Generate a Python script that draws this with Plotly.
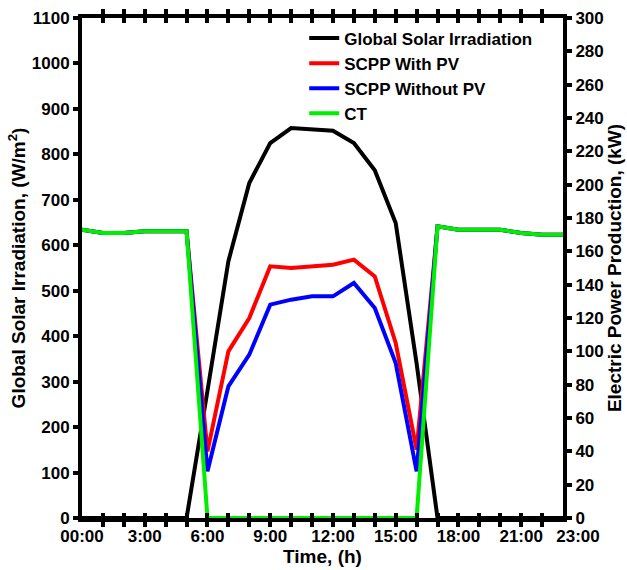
import plotly.graph_objects as go

hours = list(range(24))
irradiation = [0, 0, 0, 0, 0, 0, 280, 565, 737, 825, 858, 856, 852, 825, 765, 649, 340, 0, 0, 0, 0, 0, 0, 0]
scpp_with_pv = [173, 171, 171, 172, 172, 172, 40, 100, 120, 151, 150, 151, 152, 155, 145, 105, 41, 175, 173, 173, 173, 171, 170, 170]
scpp_without_pv = [173, 171, 171, 172, 172, 172, 28, 79, 98, 128, 131, 133, 133, 141, 126, 93, 28, 175, 173, 173, 173, 171, 170, 170]
ct = [173, 171, 171, 172, 172, 172, 0, 0, 0, 0, 0, 0, 0, 0, 0, 0, 0, 175, 173, 173, 173, 171, 170, 170]

tick_labels = {0: "00:00", 3: "3:00", 6: "6:00", 9: "9:00", 12: "12:00",
               15: "15:00", 18: "18:00", 21: "21:00"}
last_tick_value = 23
last_tick_label = "23:00"
x_tickvals = hours
x_ticktext = [tick_labels.get(h, "") for h in hours]

FONT = "Liberation Sans, Arial, sans-serif"
tickf = dict(family=FONT, size=17, color="black", weight="bold")
titlef = dict(family=FONT, size=19, color="black", weight="bold")
legf = dict(family=FONT, size=17, color="black", weight="bold")

fig = go.Figure()
fig.add_trace(go.Scatter(x=hours, y=irradiation, name="Global Solar Irradiation",
                         mode="lines", line=dict(color="black", width=4)))
fig.add_trace(go.Scatter(x=hours, y=scpp_with_pv, name="SCPP With PV", yaxis="y2",
                         mode="lines", line=dict(color="#ff0000", width=4)))
fig.add_trace(go.Scatter(x=hours, y=scpp_without_pv, name="SCPP Without PV", yaxis="y2",
                         mode="lines", line=dict(color="#0000ff", width=4)))
fig.add_trace(go.Scatter(x=hours, y=ct, name="CT", yaxis="y2",
                         mode="lines", line=dict(color="#00ee00", width=4)))

fig.update_layout(
    width=627, height=570,
    margin=dict(l=82, r=64, t=18, b=52),
    plot_bgcolor="white", paper_bgcolor="white",
    font=tickf,
    showlegend=True,
    legend=dict(x=0.462, y=0.995, xanchor="left", yanchor="top",
                bgcolor="rgba(0,0,0,0)", font=legf,
                tracegroupgap=0, itemwidth=30),
    xaxis=dict(range=[0, 23], tickmode="array", tickvals=x_tickvals, ticktext=x_ticktext,
               tickangle=0, automargin=False,
               ticks="inside", ticklen=5, tickwidth=4, tickcolor="black",
               showline=True, linewidth=4, linecolor="black", mirror="allticks",
               showgrid=False, zeroline=False, tickfont=tickf,
               title=dict(text="Time, (h)", font=titlef, standoff=2)),
    xaxis2=dict(range=[0, 23], overlaying="x", side="bottom", anchor="y",
                tickmode="array", tickvals=[last_tick_value], ticktext=[last_tick_label],
                tickangle=0, automargin=False, ticklabelshift=15, ticklabelstandoff=6,
                ticks="", showline=False, showgrid=False, zeroline=False, tickfont=tickf),
    yaxis=dict(range=[0, 1100], dtick=100, ticks="outside", ticklen=5, tickwidth=4,
               automargin=False,
               tickcolor="black", showline=True, linewidth=4, linecolor="black",
               showgrid=False, zeroline=False, tickfont=tickf,
               title=dict(text="Global Solar Irradiation, (W/m<sup>2</sup>)", font=titlef, standoff=2)),
    yaxis2=dict(range=[0, 300], dtick=20, overlaying="y", side="right",
                automargin=False,
                ticks="outside", ticklen=5, tickwidth=4, tickcolor="black",
                showline=True, linewidth=4, linecolor="black",
                showgrid=False, zeroline=False, tickfont=tickf,
                title=dict(text="Electric Power Production, (kW)", font=titlef, standoff=2)),
)

# invisible helper trace so the label-only axis is rendered
fig.add_trace(go.Scatter(x=[last_tick_value], y=[0], xaxis="x2", mode="none",
                         showlegend=False, hoverinfo="skip"))

fig.write_html("out.html")
